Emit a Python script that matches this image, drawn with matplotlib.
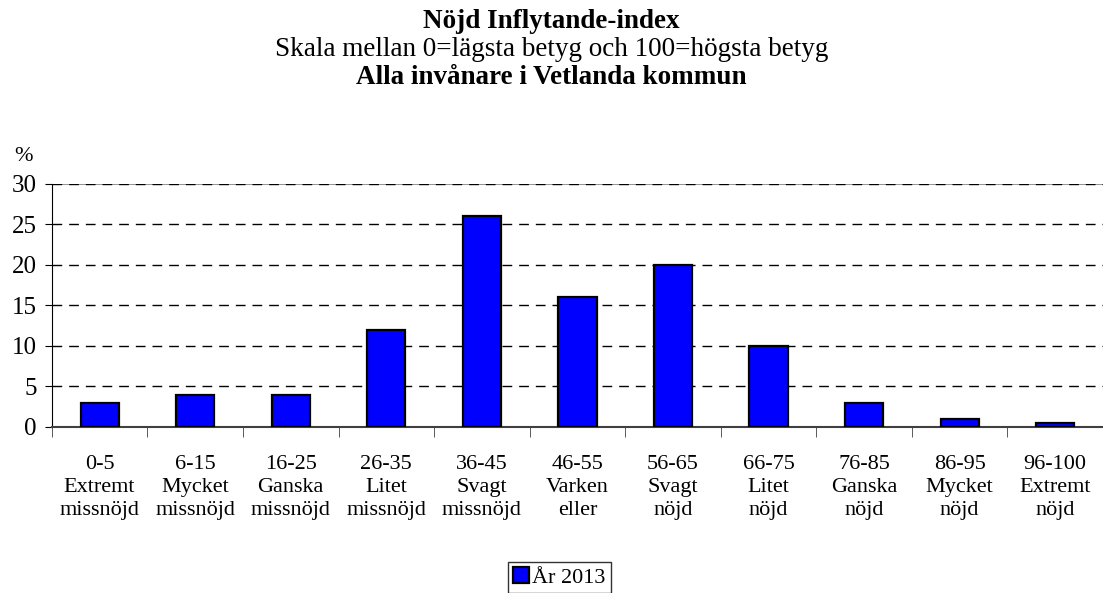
import matplotlib.pyplot as plt
import numpy as np

plt.rcParams['font.family'] = ['Liberation Serif', 'DejaVu Serif']

categories = ["0-5\nExtremt\nmissnöjd", "6-15\nMycket\nmissnöjd", "16-25\nGanska\nmissnöjd",
              "26-35\nLitet\nmissnöjd", "36-45\nSvagt\nmissnöjd", "46-55\nVarken\neller",
              "56-65\nSvagt\nnöjd", "66-75\nLitet\nnöjd", "76-85\nGanska\nnöjd",
              "86-95\nMycket\nnöjd", "96-100\nExtremt\nnöjd"]
values_2013 = [3, 4, 4, 12, 26, 16, 20, 10, 3, 1, 0.5]
yticks = [0, 5, 10, 15, 20, 25, 30]

fig = plt.figure(figsize=(11.03, 5.93), dpi=100)
ax = fig.add_axes([0.047, 0.280, 0.953, 0.410])

x = np.arange(len(categories))
ax.bar(x, values_2013, width=0.4, color='#0000ff', edgecolor='black', linewidth=1.6,
       label='År 2013', zorder=3)

ax.set_xlim(-0.5, len(categories) - 0.5)
ax.set_ylim(0, 30)
ax.set_yticks(yticks)
ax.set_yticklabels([str(t) for t in yticks], fontsize=18)
ax.set_xticks(x)
ax.set_xticklabels(categories, fontsize=16, linespacing=1.3)
ax.tick_params(axis='x', length=0, pad=20)
ax.set_xticks(np.arange(len(categories) + 1) - 0.5, minor=True)
ax.tick_params(axis='x', which='minor', length=7, direction='out', color='#404040')
ax.tick_params(axis='y', length=5, direction='out', pad=6)

ax.axhline(30, color='#808080', linewidth=1.2, zorder=1)
for t in yticks[1:]:
    ax.axhline(t, color='black', linestyle=(0, (7, 5)), linewidth=1, zorder=2)

for s in ['top', 'right']:
    ax.spines[s].set_visible(False)
ax.spines['bottom'].set_color('#404040')
ax.spines['bottom'].set_linewidth(1.5)

fig.text(0.013, 0.728, '%', fontsize=16)

fig.text(0.5, 0.963, 'Nöjd Inflytande-index', ha='center', va='center', fontsize=19.5, fontweight='bold')
fig.text(0.5, 0.917, 'Skala mellan 0=lägsta betyg och 100=högsta betyg', ha='center', va='center', fontsize=19.5)
fig.text(0.5, 0.870, 'Alla invånare i Vetlanda kommun', ha='center', va='center', fontsize=19.5, fontweight='bold')

leg = fig.legend(loc='upper center', bbox_to_anchor=(0.507, 0.053), fontsize=16, frameon=True,
                 fancybox=False, edgecolor='black', handlelength=0.7, handleheight=0.7,
                 handletextpad=0.15, borderpad=0.25, borderaxespad=0)
leg.get_frame().set_linewidth(1)

plt.savefig('out.png', dpi=100)
